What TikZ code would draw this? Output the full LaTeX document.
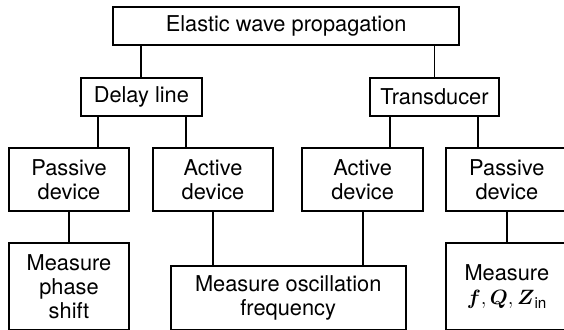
\documentclass[tikz,border=0pt]{standalone}
\usepackage{amsmath}
\usepackage{fontspec}
\setmainfont{TeX Gyre Heros}
\tikzset{
  box/.style={draw, line width=1.9pt, inner sep=0pt, outer sep=0pt, align=center,
    anchor=north west, font=\fontsize{21.8}{24}\selectfont},
  link/.style={line width=1.9pt}
}
\begin{document}
\begin{tikzpicture}[x=1pt,y=-1pt]
\useasboundingbox (0,0) rectangle (564,329);
\clip (0,0) rectangle (564,329);
\fill[white] (0,0) rectangle (564,329);
% level 1
\node[box, minimum width=345.7pt, minimum height=38.3pt] (top) at (113.3,6.7) {Elastic wave propagation};
% level 2
\node[box, minimum width=120.7pt, minimum height=37.7pt] (dl) at (81,78.3) {Delay line};
\node[box, minimum width=129pt, minimum height=37.7pt] (tr) at (370,78.3) {Transducer};
% level 3
\node[box, minimum width=120pt, minimum height=62.4pt] (p1) at (9,148.3) {Passive\\device};
\node[box, minimum width=119.4pt, minimum height=62.4pt] (a1) at (153.3,148.3) {Active\\device};
\node[box, minimum width=120.7pt, minimum height=62.4pt] (a2) at (302.3,148.3) {Active\\device};
\node[box, minimum width=122.3pt, minimum height=62.4pt] (p2) at (445.7,148.3) {Passive\\device};
% level 4
\node[box, minimum width=120pt, minimum height=86.7pt] (m1) at (9,243.3) {Measure\\phase\\shift};
\node[box, minimum width=235pt, minimum height=64.3pt] (m2) at (170.7,265.7) {Measure oscillation\\frequency};
\node[box, minimum width=122.3pt, minimum height=86.7pt] (m3) at (445.7,243.3) {Measure\\$\boldsymbol{f}, \boldsymbol{Q}, \boldsymbol{Z}_{\text{in}}$};
% connector x positions
\coordinate (x1) at (98.3,0);
\coordinate (x2) at (186,0);
\coordinate (x3) at (390,0);
\coordinate (x4) at (478.3,0);
% connectors
\draw[link] (top.south -| dl.north) -- (dl.north);
\draw[link] (top.south -| tr.north) -- (tr.north);
\draw[link] (dl.south -| x1) -- (p1.north -| x1);
\draw[link] (dl.south -| x2) -- (a1.north -| x2);
\draw[link] (tr.south -| x3) -- (a2.north -| x3);
\draw[link] (tr.south -| x4) -- (p2.north -| x4);
\draw[link] (p1.south) -- (m1.north);
\draw[link] (a1.south) -- (m2.north -| a1.south);
\draw[link] (a2.south) -- (m2.north -| a2.south);
\draw[link] (p2.south) -- (m3.north);
\end{tikzpicture}
\end{document}
